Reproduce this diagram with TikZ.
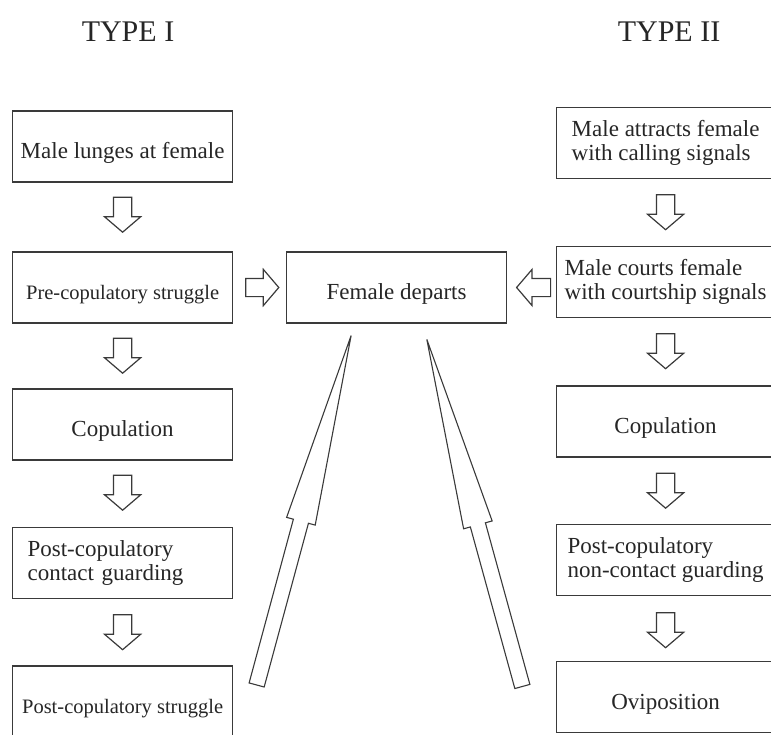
\documentclass[tikz,border=0pt]{standalone}
\usepackage{fontspec}
\setmainfont{Liberation Serif}
\usetikzlibrary{shapes.arrows,calc}

\definecolor{linegray}{HTML}{3A3A3A}
\definecolor{inkgray}{HTML}{262626}

\tikzset{
  stagebox/.style={draw=linegray, line width=1.2pt, rectangle, minimum width=220pt, minimum height=71pt,
    inner sep=0pt, align=left, text=inkgray, font=\fontsize{23}{24}\selectfont},
  smalltext/.style={font=\fontsize{20.5}{23}\selectfont},
  lowtext/.style={text height=24pt, text depth=0pt},
  typelabel/.style={text=inkgray, inner sep=0pt, font=\fontsize{30}{32}\selectfont},
  blockarrow/.style={single arrow, draw=linegray, line width=1.2pt, fill=white, inner xsep=0pt, inner ysep=8.5pt,
    text height=0pt, text depth=0pt, minimum height=35pt, minimum width=35pt,
    single arrow head extend=9pt, single arrow tip angle=99, anchor=tail},
  longarrow/.style={single arrow, draw=linegray, line width=1.1pt, fill=white, inner xsep=0pt, inner ysep=7.25pt,
    text height=0pt, text depth=0pt, minimum width=28.5pt,
    single arrow head extend=7pt, single arrow tip angle=8.8, anchor=tail}
}

\begin{document}
\begin{tikzpicture}[x=1pt, y=-1pt]
\useasboundingbox (0,0) rectangle (771,734);

% headings
\node[typelabel] (type1) at (128,32) {TYPE I};
\node[typelabel] (type2) at (669,32) {TYPE II};

% type I column
\node[stagebox, lowtext, anchor=west] (l1) at (12,146.5) {Male lunges at female};
\node[stagebox, lowtext, smalltext, anchor=west] (l2) at (12,287.5) {Pre-copulatory struggle};
\node[stagebox, lowtext, anchor=west] (l3) at (12,424.5) {Copulation};
\node[stagebox, anchor=west, text width=190pt, inner xsep=15pt] (l4) at (12,563) {Post-copulatory\\contact guarding};
\node[stagebox, lowtext, smalltext, anchor=west] (l5) at (12,701.5) {Post-copulatory struggle};

% female departs
\node[stagebox, lowtext, anchor=west] (fd) at (286,287.5) {Female departs};

% type II column
\node[stagebox, anchor=west, minimum width=218pt] (r1) at (556,143) {Male attracts female\\with calling signals};
\node[stagebox, anchor=west, minimum width=218pt] (r2) at (556,282) {Male courts female\\with courtship signals};
\node[stagebox, lowtext, anchor=west, minimum width=218pt] (r3) at (556,421.5) {Copulation};
\node[stagebox, anchor=west, minimum width=218pt] (r4) at (556,560) {Post-copulatory\\non-contact guarding};
\node[stagebox, lowtext, anchor=west, minimum width=218pt] (r5) at (556,697) {Oviposition};

% down arrows
\node[blockarrow, rotate=-90] (la1) at ($(l1.south)+(0,14)$) {};
\node[blockarrow, rotate=-90] (la2) at ($(l2.south)+(0,14)$) {};
\node[blockarrow, rotate=-90] (la3) at ($(l3.south)+(0,14)$) {};
\node[blockarrow, rotate=-90] (la4) at ($(l4.south)+(0,15)$) {};
\node[blockarrow, rotate=-90] (ra1) at ($(r1.south)+(0,15)$) {};
\node[blockarrow, rotate=-90] (ra2) at ($(r2.south)+(0,15)$) {};
\node[blockarrow, rotate=-90] (ra3) at ($(r3.south)+(0,15)$) {};
\node[blockarrow, rotate=-90] (ra4) at ($(r4.south)+(0,16)$) {};

% side arrows into female departs
\node[blockarrow, minimum height=33pt] (ha1) at ($(l2.east)+(12,0)$) {};
\node[blockarrow, minimum height=34pt, rotate=180] (ha2) at ($(fd.east)+(44,0)$) {};

% long arrows
\coordinate (lfoot) at (256.5,685.5);
\coordinate (rfoot) at (522.5,687);
\node[longarrow, minimum height=362pt, rotate=74.87] (up1) at (lfoot) {};
\node[longarrow, minimum height=360pt, rotate=105.39] (up2) at (rfoot) {};
\end{tikzpicture}
\end{document}
